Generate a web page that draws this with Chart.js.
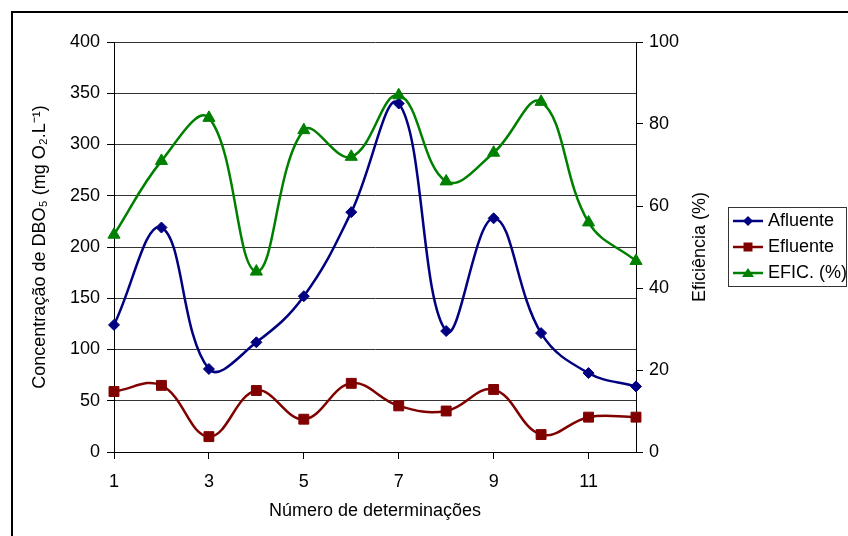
<!DOCTYPE html>
<html>
<head>
<meta charset="utf-8">
<script src="https://cdn.jsdelivr.net/npm/chart.js@4.4.1/dist/chart.umd.min.js"></script>
<style>
  html, body { margin: 0; padding: 0; background: #fff; }
  #wrap { width: 848px; height: 536px; }
</style>
</head>
<body>
<div id="wrap"><canvas id="c" width="848" height="536"></canvas></div>
<script>
// Determination number (x) and measured values
const determinacoes = [1, 2, 3, 4, 5, 6, 7, 8, 9, 10, 11, 12];
const xTickValues = [1, 3, 5, 7, 9, 11];
const afluente = [124, 219, 81, 107, 152, 234, 340, 118, 228, 116, 77, 64];
const efluente = [59, 65, 15, 60, 32, 67, 45, 40, 61, 17, 34, 34];
const eficiencia = [53, 71, 81.5, 44, 78.5, 72, 87, 66, 73, 85.4, 56, 46.6];

const seriesLabels = ['Afluente', 'Efluente', 'EFIC. (%)'];
const leftTitle = 'Concentração de DBO\u2085 (mg O\u2082.L\u207B\u00B9)';
const rightTitle = 'Eficiência (%)';
const bottomTitle = 'Número de determinações';

const FONT = "'Liberation Sans', Arial, Helvetica, sans-serif";
Chart.defaults.font.family = FONT;
Chart.defaults.font.size = 18;
Chart.defaults.color = '#000';

const NAVY = '#000080', MAROON = '#800000', GREEN = '#008000';

// Small line + marker swatches for the legend
function legendSample(color, shape) {
  const c = document.createElement('canvas');
  c.width = 30; c.height = 16;
  const g = c.getContext('2d');
  g.strokeStyle = color; g.lineWidth = 2.5;
  g.beginPath(); g.moveTo(0, 8); g.lineTo(30, 8); g.stroke();
  g.fillStyle = color;
  g.beginPath();
  if (shape === 'rectRot') {
    g.moveTo(15, 3); g.lineTo(20, 8); g.lineTo(15, 13); g.lineTo(10, 8);
  } else if (shape === 'rect') {
    g.rect(10.5, 3.5, 9, 9);
  } else {
    g.moveTo(15, 3); g.lineTo(21, 12); g.lineTo(9, 12);
  }
  g.closePath(); g.fill();
  return c;
}
const samples = [legendSample(NAVY, 'rectRot'), legendSample(MAROON, 'rect'), legendSample(GREEN, 'triangle')];

const toPoints = vals => determinacoes.map((d, i) => ({ x: d, y: vals[i] }));

// Outer frame, rotated right-axis title and legend border
const decorPlugin = {
  id: 'decor',
  beforeDraw(chart) {
    const ctx = chart.ctx;
    ctx.save();
    ctx.fillStyle = '#fff';
    ctx.fillRect(0, 0, chart.width, chart.height);
    ctx.fillStyle = '#000';
    ctx.fillRect(11, 11, chart.width - 11, 2);
    ctx.fillRect(11, 11, 2, chart.height - 11);
    ctx.restore();
  },
  afterDraw(chart) {
    const ctx = chart.ctx;
    const area = chart.chartArea;
    const y1 = chart.scales.y1;
    ctx.save();
    ctx.font = '18px ' + FONT;
    ctx.fillStyle = '#000';
    ctx.textAlign = 'center';
    ctx.textBaseline = 'middle';
    ctx.translate(y1.left + 64, (area.top + area.bottom) / 2);
    ctx.rotate(-Math.PI / 2);
    ctx.fillText(rightTitle, 0, 0);
    ctx.restore();

    const lg = chart.legend;
    const hb = lg && lg.legendHitBoxes;
    if (hb && hb.length) {
      const first = hb[0], last = hb[hb.length - 1];
      const x0 = first.left - 9;
      const y0 = first.top - 5;
      const x1 = chart.width - 1;
      const yb = last.top + last.height + 4;
      ctx.save();
      ctx.strokeStyle = '#333';
      ctx.lineWidth = 1;
      ctx.strokeRect(Math.round(x0) + 0.5, Math.round(y0) + 0.5, Math.round(x1 - x0) - 1, Math.round(yb - y0));
      ctx.restore();
    }
  }
};

const common = { borderWidth: 2.5, tension: 0.4, clip: false, pointBorderWidth: 1, pointHoverRadius: 6 };

new Chart(document.getElementById('c'), {
  type: 'line',
  data: {
    datasets: [
      Object.assign({
        label: seriesLabels[0], data: toPoints(afluente), yAxisID: 'y',
        borderColor: NAVY, backgroundColor: NAVY, pointBackgroundColor: NAVY, pointBorderColor: NAVY,
        pointStyle: 'rectRot', pointRadius: 5.5, order: 3
      }, common),
      Object.assign({
        label: seriesLabels[1], data: toPoints(efluente), yAxisID: 'y',
        borderColor: MAROON, backgroundColor: MAROON, pointBackgroundColor: MAROON, pointBorderColor: MAROON,
        pointStyle: 'rect', pointRadius: 7, order: 2
      }, common),
      Object.assign({
        label: seriesLabels[2], data: toPoints(eficiencia), yAxisID: 'y1',
        borderColor: GREEN, backgroundColor: GREEN, pointBackgroundColor: GREEN, pointBorderColor: GREEN,
        pointStyle: 'triangle', pointRadius: 7, order: 1
      }, common)
    ]
  },
  options: {
    responsive: false,
    animation: false,
    events: [],
    layout: { padding: { top: 42, left: 0, right: 0, bottom: 0 } },
    scales: {
      x: {
        type: 'linear', min: 1, max: 12,
        afterBuildTicks: s => { s.ticks = xTickValues.map(v => ({ value: v })); },
        afterFit: s => { s.height = 84; },
        grid: { drawOnChartArea: false, drawTicks: true, tickLength: 7, color: '#000' },
        border: { color: '#000', width: 1 },
        ticks: { padding: 12, maxRotation: 0, autoSkip: false, color: '#000' },
        title: { display: true, text: bottomTitle, color: '#000', padding: { top: 0, bottom: 14 } }
      },
      y: {
        position: 'left', min: 0, max: 400,
        afterFit: s => { s.width = 114; },
        ticks: { stepSize: 50, padding: 7, color: '#000' },
        grid: { color: '#333', tickColor: '#000', tickLength: 7 },
        border: { color: '#000', width: 1 },
        title: { display: true, text: leftTitle, color: '#000', padding: { top: 29, bottom: 0 } }
      },
      y1: {
        position: 'right', min: 0, max: 100,
        afterFit: s => { s.width = 93; },
        ticks: { stepSize: 20, padding: 6, color: '#000' },
        grid: { drawOnChartArea: false, color: '#000', tickLength: 7 },
        border: { color: '#000', width: 1 }
      }
    },
    plugins: {
      tooltip: { enabled: false },
      legend: {
        position: 'right', fullSize: false, maxWidth: 119, align: 'center',
        labels: {
          usePointStyle: true, pointStyleWidth: 22, padding: 8, color: '#000',
          sort: (a, b) => a.datasetIndex - b.datasetIndex,
          generateLabels: chart => {
            const items = Chart.defaults.plugins.legend.labels.generateLabels(chart);
            items.forEach(it => { it.pointStyle = samples[it.datasetIndex]; });
            return items;
          }
        }
      }
    }
  },
  plugins: [decorPlugin]
});
</script>
</body>
</html>
